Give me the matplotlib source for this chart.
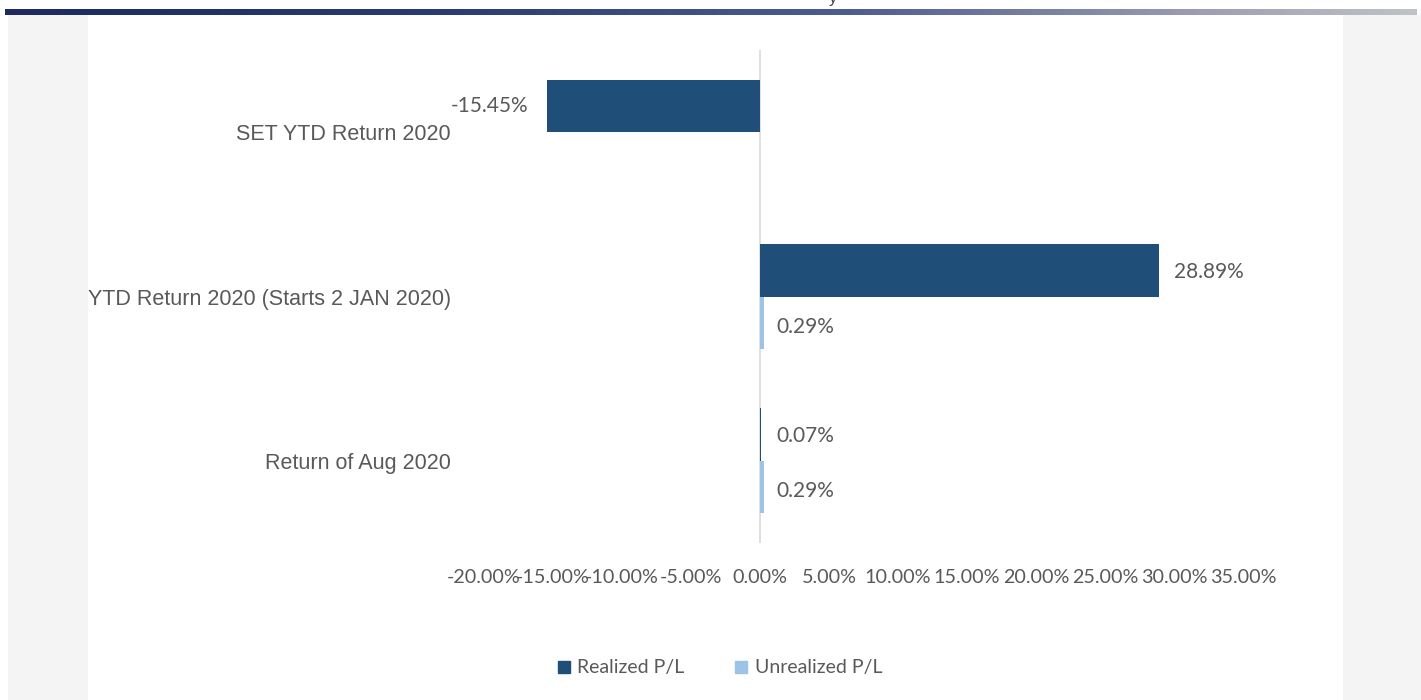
import matplotlib
matplotlib.use("Agg")
import matplotlib.pyplot as plt
import numpy as np
from matplotlib.colors import LinearSegmentedColormap
from matplotlib.patches import Rectangle
from matplotlib.lines import Line2D

# ---- data ----
categories = ["Return of Aug 2020",
              "YTD Return 2020 (Starts 2 JAN 2020)",
              "SET YTD Return 2020"]
realized = [0.07, 28.89, -15.45]
unrealized = [0.29, 0.29, np.nan]
xticks = [-20, -15, -10, -5, 0, 5, 10, 15, 20, 25, 30, 35]
series_names = ["Realized P/L", "Unrealized P/L"]

C_REAL = "#1F4E79"
C_UNREAL = "#9DC3E6"
TXT = "#595959"

W, H = 1421, 700
fig = plt.figure(figsize=(W / 100, H / 100), dpi=100, facecolor="white")

def fx(px):
    return px / W

def fy(py):
    return 1 - py / H

# side grey panels
for x0, x1 in [(8, 88), (1343, 1421)]:
    fig.patches.append(Rectangle((fx(x0), 0), fx(x1 - x0), fy(15), transform=fig.transFigure,
                                 facecolor="#F4F4F4", edgecolor="none", zorder=0))

# top gradient band
band = fig.add_axes([fx(5), fy(15), fx(1412), 6 / H])
cmap = LinearSegmentedColormap.from_list("band", [(0, "#1E2A5E"), (0.3, "#2A3A72"),
                                                  (0.6, "#4F5C8E"), (0.85, "#9C9EB3"),
                                                  (1.0, "#BFC3C7")])
band.imshow(np.linspace(0, 1, 512)[None, :], aspect="auto", cmap=cmap)
band.axis("off")

# cut-off glyph of the title above
fig.text(fx(833), fy(3), "y", fontsize=12, color="#404040", ha="center", va="baseline",
         family="Liberation Sans")

# ---- main axes ----
ax = fig.add_axes([fx(484), fy(543), fx(1243 - 484), (543 - 50) / H])
ax.set_facecolor("none")
y = np.arange(len(categories))
h = 0.32
ax.barh(y + h / 2, realized, height=h, color=C_REAL, label=series_names[0], zorder=2)
ax.barh(y - h / 2, unrealized, height=h, color=C_UNREAL, label=series_names[1], zorder=2)
ax.axvline(0, color="#D9D9D9", lw=1.2, zorder=1)

ax.set_xlim(-20, 35)
ax.set_ylim(-0.5, 2.5)
ax.set_xticks(xticks)
ax.set_xticklabels([f"{v:.2f}%" for v in xticks], fontsize=14.2, color=TXT, family="Lato")
ax.set_yticks(y)
ax.set_yticklabels(categories, fontsize=15.5, color=TXT, family="Liberation Sans")
ax.tick_params(axis="both", length=0)
ax.tick_params(axis="x", pad=19)
ax.tick_params(axis="y", pad=24)
for s in ax.spines.values():
    s.set_visible(False)

# data labels
LBL = dict(fontsize=15, color=TXT, family="Lato", va="center")
for yi, v in zip(y, realized):
    if v < 0:
        ax.annotate(f"{v:.2f}%", (v, yi + h / 2), xytext=(-13, 0), textcoords="offset points",
                    ha="right", **LBL)
    else:
        ax.annotate(f"{v:.2f}%", (v, yi + h / 2), xytext=(11, -1), textcoords="offset points",
                    ha="left", **LBL)
for yi, v in zip(y, unrealized):
    if not np.isnan(v):
        ax.annotate(f"{v:.2f}%", (v, yi - h / 2), xytext=(9, -3), textcoords="offset points",
                    ha="left", **LBL)

# legend
handles = [Line2D([], [], marker="s", ls="none", color=C_REAL, markersize=9),
           Line2D([], [], marker="s", ls="none", color=C_UNREAL, markersize=9)]
fig.legend(handles, series_names, loc="center", bbox_to_anchor=(fx(718), fy(668)), ncol=2,
           frameon=False, prop={"family": "Lato", "size": 14}, labelcolor=TXT,
           handletextpad=0.2, columnspacing=2.4, handlelength=1.0)

fig.savefig("out.png", dpi=100, facecolor="white")
